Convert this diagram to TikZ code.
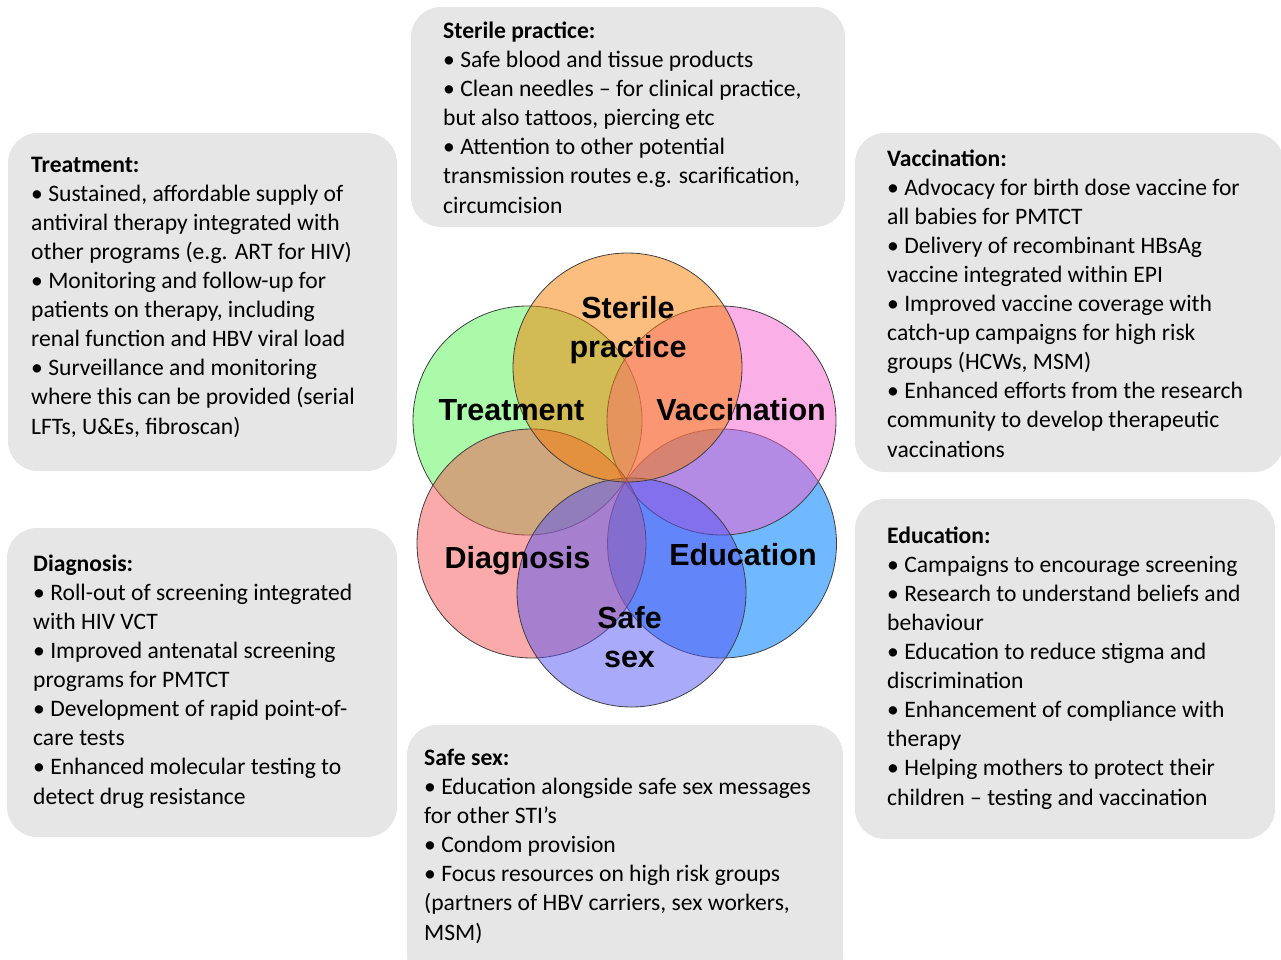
\documentclass[tikz,border=0pt]{standalone}
\usepackage{fontspec}
\setmainfont{Carlito}
\newfontfamily\circlefont{Liberation Sans}

\definecolor{boxgray}{RGB}{230,230,230}
\definecolor{sterilecol}{RGB}{250,125,0}
\definecolor{treatcol}{RGB}{85,245,85}
\definecolor{vaccol}{RGB}{245,95,205}
\definecolor{diagcol}{RGB}{245,85,85}
\definecolor{educol}{RGB}{0,128,255}
\definecolor{sexcol}{RGB}{85,85,245}

\tikzset{
	infobox/.style={fill=boxgray, rounded corners=30pt},
	infotext/.style={anchor=base west, align=left, inner sep=0pt,
		font=\fontsize{23.6}{29.1}\selectfont},
	venn/.style={draw=black!75, line width=0.8pt, fill opacity=0.5},
	vennlabel/.style={anchor=base, align=center, inner sep=0pt,
		font=\circlefont\bfseries\fontsize{30.5}{38.5}\selectfont},
}

\begin{document}
\begin{tikzpicture}[x=1pt, y=-1pt, line cap=round, line join=round]
				\useasboundingbox (0,0) rectangle (1281,960);
				\clip (0,0) rectangle (1281,960);
				
				% Các khung chữ màu xám
				\fill[infobox] (8,133) rectangle (397,471);
				\fill[infobox] (411,7) rectangle (845,227);
				\fill[infobox] (855,133) rectangle (1284,472);
				\fill[infobox] (7,528) rectangle (397,837);
				\fill[infobox] (407,725) rectangle (843,985);
				\fill[infobox] (855,499) rectangle (1275,839);
				
				% Nội dung các khung (neo ở dòng cuối)
				\node[infotext] (treattext) at (31,434) {\textbf{Treatment:}\\
					• Sustained, affordable supply of\\
					antiviral therapy integrated with\\
					other programs (e.g. ART for HIV)\\
					• Monitoring and follow-up for\\
					patients on therapy, including\\
					renal function and HBV viral load\\
					• Surveillance and monitoring\\
					where this can be provided (serial\\
					LFTs, U\&Es, fibroscan)};
				\node[infotext] (steriletext) at (443,213) {\textbf{Sterile practice:}\\
					• Safe blood and tissue products\\
					• Clean needles – for clinical practice,\\
					but also tattoos, piercing etc\\
					• Attention to other potential\\
					transmission routes e.g. scarification,\\
					circumcision};
				\node[infotext] (vactext) at (887,457) {\textbf{Vaccination:}\\
					• Advocacy for birth dose vaccine for\\
					all babies for PMTCT\\
					• Delivery of recombinant HBsAg\\
					vaccine integrated within EPI\\
					• Improved vaccine coverage with\\
					catch-up campaigns for high risk\\
					groups (HCWs, MSM)\\
					• Enhanced efforts from the research\\
					community to develop therapeutic\\
					vaccinations};
				\node[infotext] (diagtext) at (33,804) {\textbf{Diagnosis:}\\
					• Roll-out of screening integrated\\
					with HIV VCT\\
					• Improved antenatal screening\\
					programs for PMTCT\\
					• Development of rapid point-of-\\
					care tests\\
					• Enhanced molecular testing to\\
					detect drug resistance};
				\node[infotext] (sextext) at (424,940) {\textbf{Safe sex:}\\
					• Education alongside safe sex messages\\
					for other STI’s\\
					• Condom provision\\
					• Focus resources on high risk groups\\
					(partners of HBV carriers, sex workers,\\
					MSM)};
				\node[infotext] (edutext) at (887,805) {\textbf{Education:}\\
					• Campaigns to encourage screening\\
					• Research to understand beliefs and\\
					behaviour\\
					• Education to reduce stigma and\\
					discrimination\\
					• Enhancement of compliance with\\
					therapy\\
					• Helping mothers to protect their\\
					children – testing and vaccination};
				
				% Tâm các hình tròn
				\coordinate (S) at (627.5,367.5);
				\coordinate (T) at (527.5,420.5);
				\coordinate (V) at (721.5,420.5);
				\coordinate (D) at (531.5,543.5);
				\coordinate (E) at (722,543.5);
				\coordinate (X) at (631.5,592.5);
				
				% Vẽ các hình tròn
				\filldraw[venn, fill=educol, fill opacity=0.56] (E) circle (114.5);
				\filldraw[venn, fill=treatcol] (T) circle (114.5);
				\filldraw[venn, fill=vaccol] (V) circle (114.5);
				\filldraw[venn, fill=diagcol] (D) circle (114.5);
				\filldraw[venn, fill=sexcol] (X) circle (114.5);
				\filldraw[venn, fill=sterilecol] (S) circle (114.5);
				
				% Tên các hình tròn
				\node[vennlabel] (sterilelabel) at (628,357) {Sterile\\practice};
				\node[vennlabel] (treatlabel) at (511.5,420) {Treatment};
				\node[vennlabel] (vaclabel) at (741,420) {Vaccination};
				\node[vennlabel] (diaglabel) at (517.5,568) {Diagnosis};
				\node[vennlabel] (edulabel) at (743,565) {Education};
				\node[vennlabel] (sexlabel) at (629.5,667) {Safe\\sex};
\end{tikzpicture}
\end{document}
